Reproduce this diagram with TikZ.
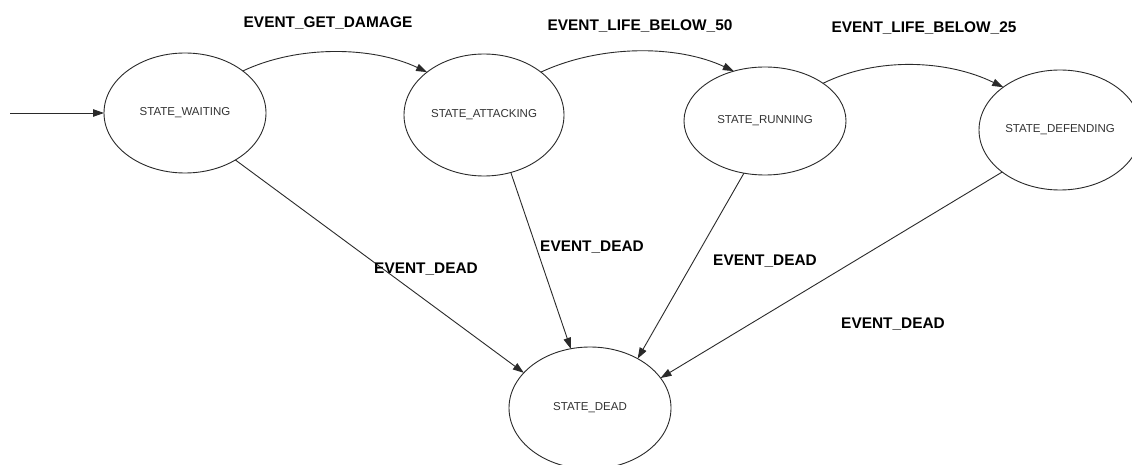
\documentclass[tikz,border=0pt]{standalone}
\usepackage{fontspec}
\setmainfont{Liberation Sans}
\usetikzlibrary{shapes.geometric,arrows.meta}

\definecolor{inkline}{HTML}{2A2A2A}
\definecolor{statetext}{HTML}{333333}

\tikzset{
  statenode/.style={ellipse, draw=inkline, line width=0.9pt, inner sep=0pt,
    outer sep=0pt, font=\fontsize{11.5}{13}\selectfont, text=statetext},
  eventlabel/.style={font=\fontsize{15.4}{17}\selectfont\bfseries, text=black,
    inner sep=0pt},
  trans/.style={draw=inkline, line width=0.9pt,
    -{Triangle[length=11pt,width=7.5pt]}},
}

\begin{document}
\begin{tikzpicture}[x=1pt,y=-1pt]
  \useasboundingbox (0,0) rectangle (1132,465);
  \fill[white] (0,0) rectangle (1132,465);

  % states
  \node[statenode, minimum width=162pt, minimum height=120pt] (waiting)   at (185,113)  {STATE\_WAITING};
  \node[statenode, minimum width=160pt, minimum height=122pt] (attacking) at (484,115)  {STATE\_ATTACKING};
  \node[statenode, minimum width=162pt, minimum height=108pt] (running)   at (765,121)  {STATE\_RUNNING};
  \node[statenode, minimum width=162pt, minimum height=120pt] (defending) at (1060,130) {STATE\_DEFENDING};
  \node[statenode, minimum width=162pt, minimum height=122pt] (dead)      at (590,408)  {STATE\_DEAD};

  % initial arrow
  \coordinate (init) at (10,113);
  \draw[trans] (init) -- (waiting.west);

  % forward transitions along the top
  \draw[trans] (waiting.36) .. controls +(55,-26) and +(-55,-26) .. (attacking.143);
  \draw[trans] (attacking.37) .. controls +(58,-27) and +(-58,-27) .. (running.122);
  \draw[trans] (running.33) .. controls +(55,-27) and +(-55,-27) .. (defending.143);

  % every state can die
  \draw[trans] (waiting.-43)   -- (dead.152);
  \draw[trans] (attacking.-65) -- (dead.108);
  \draw[trans] (running.-112)  -- (dead.46);
  \draw[trans] (defending.-144) -- (dead.23);

  % event labels
  \node[eventlabel] (lgetdamage) at (328,23) {EVENT\_GET\_DAMAGE};
  \node[eventlabel] (lbelow50)   at (640,26) {EVENT\_LIFE\_BELOW\_50};
  \node[eventlabel] (lbelow25)   at (924,28) {EVENT\_LIFE\_BELOW\_25};
  \node[eventlabel] (ldeadw)     at (426,269) {EVENT\_DEAD};
  \node[eventlabel] (ldeada)     at (592,247) {EVENT\_DEAD};
  \node[eventlabel] (ldeadr)     at (765,261) {EVENT\_DEAD};
  \node[eventlabel] (ldeadd)     at (893,324) {EVENT\_DEAD};
\end{tikzpicture}
\end{document}
